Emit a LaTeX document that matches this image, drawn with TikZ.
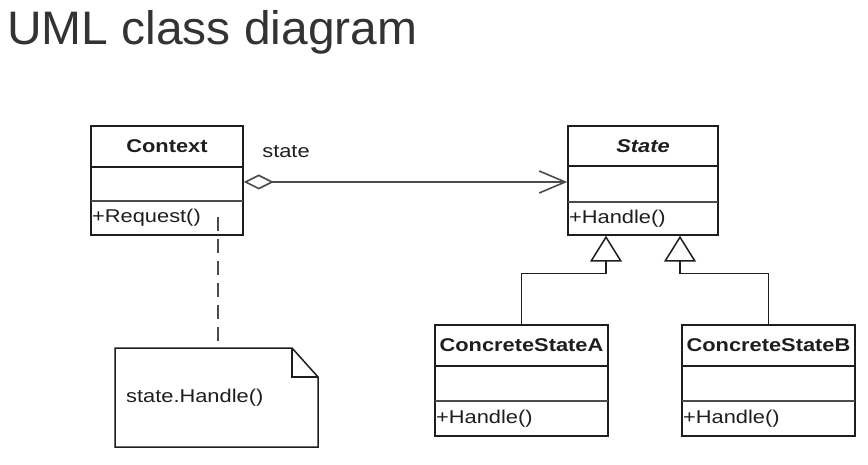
\documentclass[tikz,border=0pt]{standalone}
\usepackage{fontspec}
\usetikzlibrary{arrows.meta,fit,calc}
\newfontfamily\umlf[FakeStretch=1.18]{Liberation Sans}
\newfontfamily\titlef[FakeStretch=1.02]{Liberation Sans}
\definecolor{ink}{HTML}{1E1E1E}
\definecolor{titleink}{HTML}{333333}
\tikzset{
  classbox/.style={draw=ink, line width=1.5pt, inner sep=0pt},
  classline/.style={draw=ink, line width=1.5pt},
  sepline/.style={draw=black!70, line width=2.6pt},
  classname/.style={font=\umlf\fontsize{18.5}{20}\selectfont\bfseries, text=ink, inner sep=0pt},
  classop/.style={font=\umlf\fontsize{18.5}{20}\selectfont, text=ink, inner sep=1pt},
  assoc/.style={draw=black!70, line width=1.6pt},
  genline/.style={draw=ink, line width=1.5pt},
  dashline/.style={draw=black!70, line width=1.6pt, dash pattern=on 14pt off 8pt},
  plain/.style={font=\umlf\fontsize{18.5}{20}\selectfont, text=ink, inner sep=0pt}
}
\newcommand\umlclass[9]{%
  \node[classbox, fit={(#2,#3) (#4,#7)}] (#1) {};
  \draw[classline] (#2,#5) -- (#4,#5);
  \draw[sepline] (#2,#6) -- (#4,#6);
  \node[classname] (#1-name) at ({(#2+#4)/2},{(#3+#5)/2}) {#8};
  \node[classop, anchor=west] (#1-op) at (#2,{(#6+#7)/2}) {#9};
}
\begin{document}
\begin{tikzpicture}[x=1pt, y=-1pt]
\useasboundingbox[fill=white] (0,0) rectangle (868,465);
\node[font=\titlef\fontsize{47}{50}\selectfont, text=titleink, anchor=base west, inner sep=0pt] (title) at (7,45) {UML class diagram};

\umlclass{Context}{91}{126}{243}{167}{201}{235}{Context}{+Request()}
\umlclass{State}{568}{126}{718}{166}{202}{235}{\itshape State}{+Handle()}
\umlclass{A}{435}{325}{608}{366}{401}{436}{ConcreteStateA}{+Handle()}
\umlclass{B}{682}{325}{855}{366}{401}{436}{ConcreteStateB}{+Handle()}

% association
\draw[assoc, {Diamond[open, length=30pt, width=15pt]}-{Straight Barb[length=26pt, width=22pt]}] ($(Context.east)+(0,1.5)$) -- ($(State.west)+(0,1.5)$);
\node[plain] (rolelabel) at (286,152) {state};

% generalizations
\coordinate (sA) at ([xshift=-37pt]State.south);
\coordinate (sB) at ([xshift=37pt]State.south);
\draw[genline, -{Triangle[open, length=26pt, width=32pt, fill=white]}] (A.north) |- ($(sA)+(0,38)$) -- (sA);
\draw[genline, -{Triangle[open, length=26pt, width=32pt, fill=white]}] (B.north) |- ($(sB)+(0,38)$) -- (sB);

% note
\draw[classline, line join=miter] (115,348) -- (292,348) -- (318,377) -- (318,447) -- (115,447) -- cycle;
\draw[classline] (292,348) -- (292,377) -- (318,377);
\node[fit={(115,348) (318,447)}, inner sep=0pt] (note) {};
\node[plain, anchor=west] (notetext) at (126,398) {state.Handle()};

% anchor line
\coordinate (dtop) at (218,217);
\draw[dashline] (dtop) -- (dtop |- note.north);
\end{tikzpicture}
\end{document}
